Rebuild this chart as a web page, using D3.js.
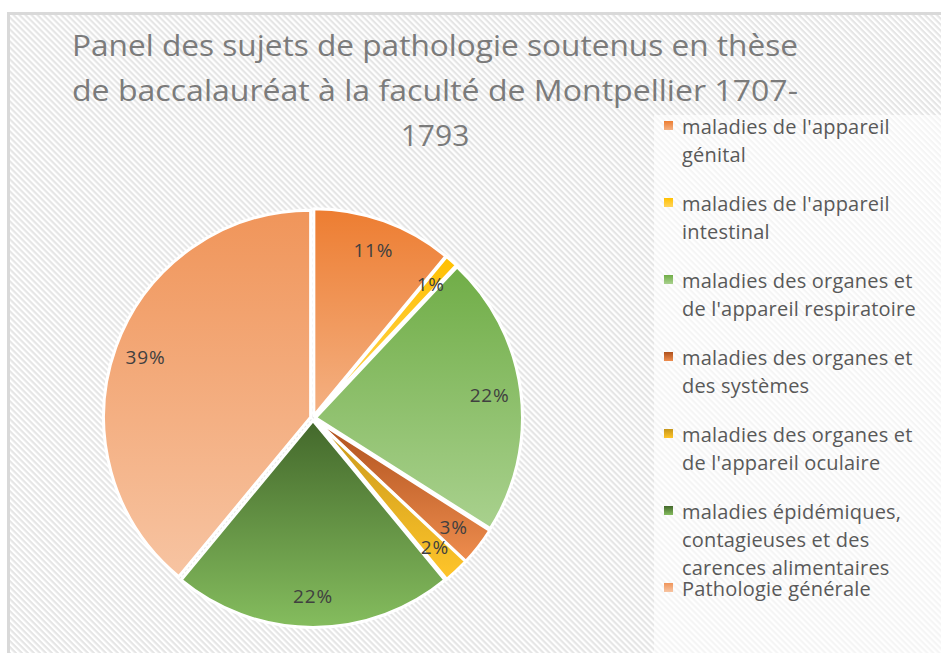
<!DOCTYPE html>
<html>
<head>
<meta charset="utf-8">
<script src="https://cdn.jsdelivr.net/npm/d3@7"></script>
<style>
  body { margin: 0; background: #fff; }
  svg { display: block; }
</style>
</head>
<body>
<svg width="941" height="653"></svg>
<script>
//// PIE CHART OF THESIS SUBJECTS ////

// title, one entry per line as in the original
var titleLines = [
    "Panel des sujets de pathologie soutenus en thèse",
    "de baccalauréat à la faculté de Montpellier 1707-",
    "1793"
];

// categories (legend wraps marked with \n)
var categories = [
    "maladies de l'appareil\ngénital",
    "maladies de l'appareil\nintestinal",
    "maladies des organes et\nde l'appareil respiratoire",
    "maladies des organes et\ndes systèmes",
    "maladies des organes et\nde l'appareil oculaire",
    "maladies épidémiques,\ncontagieuses et des\ncarences alimentaires",
    "Pathologie générale"
];

// share of each category, in percent
var shares = [11, 1, 22, 3, 2, 22, 39];

// gradient colours: top and bottom of each slice
var topColors = ["#ED7D31", "#FFC000", "#70AD47", "#AE501C", "#C6961A", "#43682B", "#F0955A"];
var bottomColors = ["#F4B183", "#FFD45C", "#A9D18E", "#EE8D4E", "#FFC52A", "#85BD5E", "#F7C4A2"];

var data = categories.map(function (c, i) {
    return { name: c, value: shares[i], i: i };
});

var svg = d3.select("svg"),
    width = +svg.attr("width"),
    height = +svg.attr("height");

var defs = svg.append("defs");

// diagonal stripes of the chart area
var pat = defs.append("pattern")
    .attr("id", "stripes")
    .attr("patternUnits", "userSpaceOnUse")
    .attr("width", 8)
    .attr("height", 4.24)
    .attr("patternTransform", "rotate(45)");
pat.append("rect").attr("width", 8).attr("height", 4.24).attr("fill", "#fff");
pat.append("rect").attr("width", 8).attr("height", 2.1).attr("fill", "#e5e5e5");

// one vertical gradient per category
data.forEach(function (d) {
    var g = defs.append("linearGradient")
        .attr("id", "grad" + d.i)
        .attr("x1", 0).attr("y1", 0).attr("x2", 0).attr("y2", 1);
    g.append("stop").attr("offset", "0%").attr("stop-color", topColors[d.i]);
    g.append("stop").attr("offset", "100%").attr("stop-color", bottomColors[d.i]);
});

svg.append("rect").attr("width", width).attr("height", height).attr("fill", "#fff");

// chart area with border
svg.append("rect")
    .attr("x", 8.5).attr("y", 13.5)
    .attr("width", width).attr("height", height)
    .attr("fill", "url(#stripes)")
    .attr("stroke", "#d9d9d9")
    .attr("stroke-width", 3);

// title
svg.append("g")
    .selectAll("text")
    .data(titleLines)
    .enter().append("text")
    .attr("x", 435)
    .attr("y", function (d, i) { return 56 + i * 45; })
    .attr("text-anchor", "middle")
    .attr("font-family", "Open Sans, sans-serif")
    .attr("font-size", 30)
    .attr("fill", "#7b7b7b")
    .text(function (d) { return d; })
    .each(function (d, i) {
        // the two wrapped lines fill the same width as in the original
        if (i < 2) {
            d3.select(this).attr("textLength", 726).attr("lengthAdjust", "spacingAndGlyphs");
        }
    });

// pie
var cx = 313, cy = 418, radius = 207, explode = 2.5;

var pie = d3.pie().sort(null).value(function (d) { return d.value; });
var arcs = pie(data);
var arc = d3.arc().innerRadius(0).outerRadius(radius);
var labelArc = d3.arc().innerRadius(radius * 0.86).outerRadius(radius * 0.86);
var total = d3.sum(shares);
var pct = d3.format(".0%");

var g = svg.append("g").attr("transform", "translate(" + cx + "," + cy + ")");

g.selectAll(".slice")
    .data(arcs)
    .enter().append("path")
    .attr("class", "slice")
    .attr("transform", function (d) {
        var a = (d.startAngle + d.endAngle) / 2;
        return "translate(" + (Math.sin(a) * explode) + "," + (-Math.cos(a) * explode) + ")";
    })
    .attr("d", arc)
    .attr("fill", function (d) { return "url(#grad" + d.data.i + ")"; })
    .attr("stroke", "#fff")
    .attr("stroke-width", 3)
    .attr("stroke-linejoin", "round");

g.selectAll(".lbl")
    .data(arcs)
    .enter().append("text")
    .attr("class", "lbl")
    .attr("transform", function (d) { return "translate(" + labelArc.centroid(d) + ")"; })
    .attr("dy", "0.35em")
    .attr("text-anchor", "middle")
    .attr("font-family", "Open Sans, sans-serif")
    .attr("font-size", 19)
    .attr("letter-spacing", 0.8)
    .attr("fill", "#404040")
    .text(function (d) { return pct(d.data.value / total); });

// legend box, slightly whitened
svg.append("rect")
    .attr("x", 654).attr("y", 115)
    .attr("width", width).attr("height", height)
    .attr("fill", "#fff")
    .attr("opacity", 0.6);

var legend = svg.append("g").attr("transform", "translate(664,121)");

var item = legend.selectAll(".item")
    .data(data)
    .enter().append("g")
    .attr("class", "item")
    .attr("transform", function (d, i) { return "translate(0," + (i * 77) + ")"; });

item.append("rect")
    .attr("width", 9).attr("height", 9)
    .attr("fill", function (d) { return "url(#grad" + d.i + ")"; });

item.append("text")
    .attr("font-family", "Open Sans, sans-serif")
    .attr("font-size", 20)
    .attr("letter-spacing", 0.2)
    .attr("fill", "#595959")
    .selectAll("tspan")
    .data(function (d) { return d.name.split("\n"); })
    .enter().append("tspan")
    .attr("x", 18)
    .attr("y", function (d, i) { return 13 + i * 28; })
    .text(function (d) { return d; });
</script>
</body>
</html>
